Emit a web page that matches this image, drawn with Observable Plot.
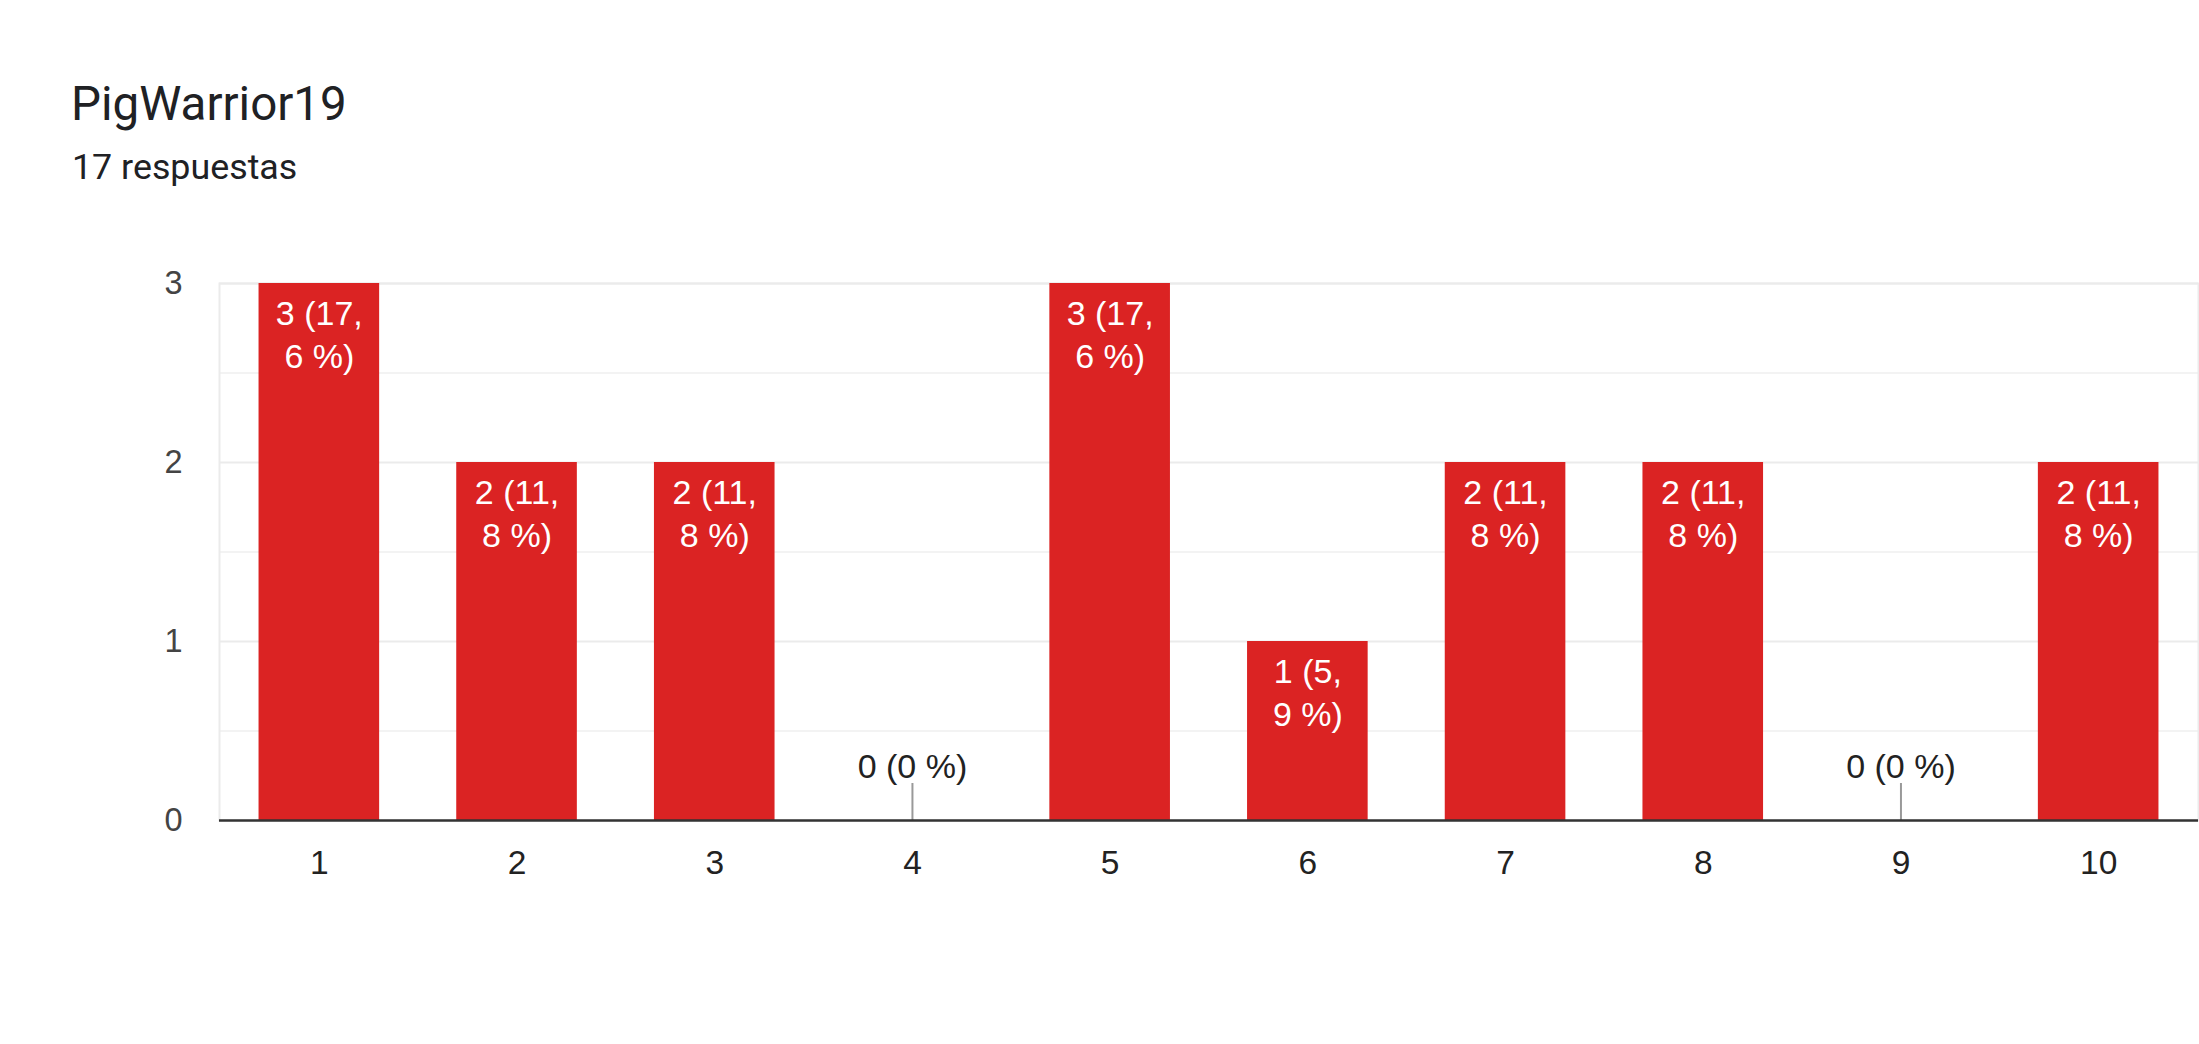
<!DOCTYPE html>
<html>
<head>
<meta charset="utf-8">
<script src="https://cdn.jsdelivr.net/npm/d3@7"></script>
<script src="https://cdn.jsdelivr.net/npm/@observablehq/plot@0.6"></script>
<style>
  html, body { margin: 0; padding: 0; background: #fff; }
  #wrap { position: relative; width: 2199px; height: 1044px; overflow: hidden; }
  .title { position: absolute; left: 71px; top: 81px; font-family: Roboto, sans-serif; font-size: 47.5px; line-height: 47px; color: #202124; white-space: nowrap; }
  .subtitle { position: absolute; left: 72px; top: 150px; font-family: Roboto, sans-serif; font-size: 35.8px; line-height: 35px; color: #202124; white-space: nowrap; }
  #chart { position: absolute; left: 0; top: 230px; }
</style>
</head>
<body>
<div id="wrap">
  <div class="title">PigWarrior19</div>
  <div class="subtitle">17 respuestas</div>
  <div id="chart"></div>
</div>
<script>
const categories = ["1", "2", "3", "4", "5", "6", "7", "8", "9", "10"];
const counts = [3, 2, 2, 0, 3, 1, 2, 2, 0, 2];
const percents = ["17,6", "11,8", "11,8", "0", "17,6", "5,9", "11,8", "11,8", "0", "11,8"];
const yTicks = [0, 1, 2, 3];
const majorGrid = [1, 2, 3];
const minorGrid = [0.5, 1.5, 2.5];

const data = categories.map((c, i) => ({
  cat: c,
  count: counts[i],
  pct: percents[i],
  label: counts[i] > 0
    ? `${counts[i]} (${percents[i].split(",")[0]},\n${percents[i].split(",")[1]} %)`
    : `${counts[i]} (${percents[i]} %)`
}));
const nonZero = data.filter(d => d.count > 0);
const zeros = data.filter(d => d.count === 0);

const font = "Arial, 'Liberation Sans', sans-serif";

const chart = Plot.plot({
  width: 2199,
  height: 690,
  marginLeft: 219,
  marginRight: 1,
  marginTop: 53,
  marginBottom: 100,
  style: { fontFamily: font, background: "#fff", overflow: "visible" },
  x: { type: "band", domain: categories, paddingInner: 0.39, paddingOuter: 0.2, round: false, label: null },
  y: { domain: [0, 3], label: null },
  marks: [
    Plot.ruleY(minorGrid, { stroke: "#f3f3f3", strokeWidth: 2 }),
    Plot.ruleY(majorGrid, { stroke: "#ebebeb", strokeWidth: 2 }),
    Plot.frame({ stroke: "#ebebeb", strokeWidth: 2 }),
    Plot.barY(nonZero, { x: "cat", y: "count", fill: "#db2323" }),
    Plot.ruleX(zeros, { x: "cat", y1: 0, y2: 0, insetTop: -37, stroke: "#999", strokeWidth: 2 }),
    Plot.ruleY([0], { stroke: "#333", strokeWidth: 2.5 }),
    Plot.text(nonZero, {
      x: "cat", y: "count", text: "label",
      lineAnchor: "top", dy: 12, lineHeight: 1.24,
      fill: "#fff", fontSize: 34, fontFamily: font
    }),
    Plot.text(zeros, {
      x: "cat", y: "count", text: "label",
      lineAnchor: "bottom", dy: -43,
      fill: "#222", fontSize: 34, fontFamily: font
    }),
    Plot.axisY({ ticks: yTicks, tickSize: 0, tickPadding: 37, fontSize: 32.5, fill: "#444", tickFormat: d => String(d), label: null }),
    Plot.axisX({ tickSize: 0, tickPadding: 29.3, fontSize: 33.5, fill: "#222", label: null })
  ]
});
document.getElementById("chart").appendChild(chart);
</script>
</body>
</html>
